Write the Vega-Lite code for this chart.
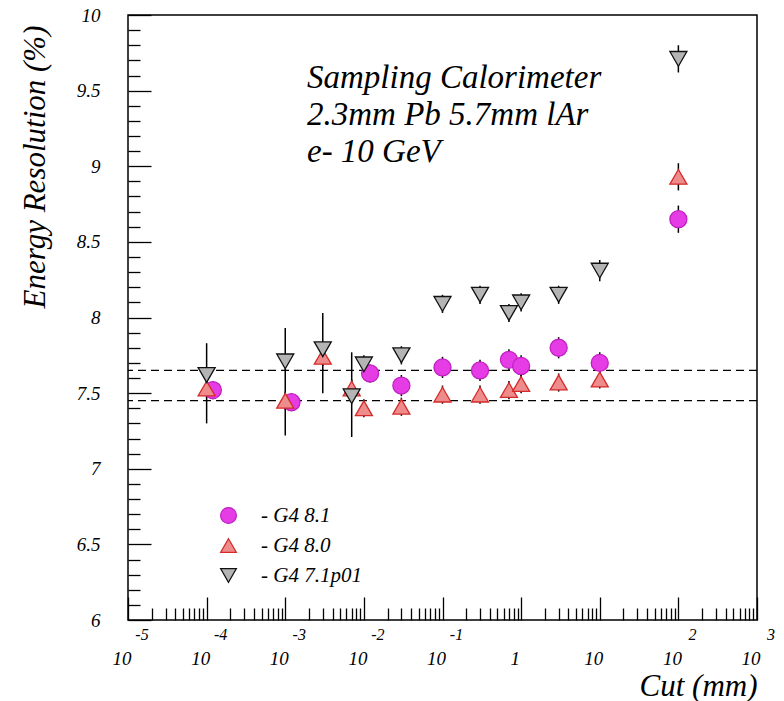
{
  "$schema": "https://vega.github.io/schema/vega-lite/v6.json",
  "width": 629,
  "height": 605,
  "autosize": {"type": "none"},
  "padding": {"left": 128, "top": 15, "right": 27, "bottom": 81},
  "background": "white",
  "config": {
    "view": {"stroke": "black", "strokeWidth": 1.5},
    "font": "Liberation Serif"
  },
  "datasets": {
    "points": [
      {"series": "G4 8.1", "cut": 0.00012, "res": 7.52, "lo": 7.46, "hi": 7.58},
      {"series": "G4 8.1", "cut": 0.0012, "res": 7.44, "lo": 7.38, "hi": 7.50},
      {"series": "G4 8.1", "cut": 0.012, "res": 7.63, "lo": 7.57, "hi": 7.69},
      {"series": "G4 8.1", "cut": 0.03, "res": 7.55, "lo": 7.48, "hi": 7.62},
      {"series": "G4 8.1", "cut": 0.1, "res": 7.67, "lo": 7.60, "hi": 7.74},
      {"series": "G4 8.1", "cut": 0.3, "res": 7.65, "lo": 7.58, "hi": 7.72},
      {"series": "G4 8.1", "cut": 0.7, "res": 7.72, "lo": 7.65, "hi": 7.79},
      {"series": "G4 8.1", "cut": 1, "res": 7.68, "lo": 7.61, "hi": 7.75},
      {"series": "G4 8.1", "cut": 3, "res": 7.80, "lo": 7.73, "hi": 7.87},
      {"series": "G4 8.1", "cut": 10, "res": 7.70, "lo": 7.63, "hi": 7.77},
      {"series": "G4 8.1", "cut": 100, "res": 8.65, "lo": 8.56, "hi": 8.74},

      {"series": "G4 8.0", "cut": 0.0001, "res": 7.53, "lo": 7.47, "hi": 7.59},
      {"series": "G4 8.0", "cut": 0.001, "res": 7.45, "lo": 7.39, "hi": 7.51},
      {"series": "G4 8.0", "cut": 0.003, "res": 7.74, "lo": 7.68, "hi": 7.80},
      {"series": "G4 8.0", "cut": 0.007, "res": 7.53, "lo": 7.47, "hi": 7.59},
      {"series": "G4 8.0", "cut": 0.01, "res": 7.40, "lo": 7.34, "hi": 7.46},
      {"series": "G4 8.0", "cut": 0.03, "res": 7.41, "lo": 7.35, "hi": 7.47},
      {"series": "G4 8.0", "cut": 0.1, "res": 7.49, "lo": 7.43, "hi": 7.55},
      {"series": "G4 8.0", "cut": 0.3, "res": 7.49, "lo": 7.43, "hi": 7.55},
      {"series": "G4 8.0", "cut": 0.7, "res": 7.52, "lo": 7.46, "hi": 7.58},
      {"series": "G4 8.0", "cut": 1, "res": 7.56, "lo": 7.50, "hi": 7.62},
      {"series": "G4 8.0", "cut": 3, "res": 7.57, "lo": 7.51, "hi": 7.63},
      {"series": "G4 8.0", "cut": 10, "res": 7.59, "lo": 7.53, "hi": 7.65},
      {"series": "G4 8.0", "cut": 100, "res": 8.93, "lo": 8.84, "hi": 9.02},

      {"series": "G4 7.1p01", "cut": 0.0001, "res": 7.62, "lo": 7.30, "hi": 7.83},
      {"series": "G4 7.1p01", "cut": 0.001, "res": 7.71, "lo": 7.22, "hi": 7.93},
      {"series": "G4 7.1p01", "cut": 0.003, "res": 7.79, "lo": 7.50, "hi": 8.03},
      {"series": "G4 7.1p01", "cut": 0.007, "res": 7.48, "lo": 7.21, "hi": 7.77},
      {"series": "G4 7.1p01", "cut": 0.01, "res": 7.69, "lo": 7.63, "hi": 7.75},
      {"series": "G4 7.1p01", "cut": 0.03, "res": 7.75, "lo": 7.69, "hi": 7.81},
      {"series": "G4 7.1p01", "cut": 0.1, "res": 8.09, "lo": 8.03, "hi": 8.15},
      {"series": "G4 7.1p01", "cut": 0.3, "res": 8.15, "lo": 8.09, "hi": 8.21},
      {"series": "G4 7.1p01", "cut": 0.7, "res": 8.03, "lo": 7.97, "hi": 8.09},
      {"series": "G4 7.1p01", "cut": 1, "res": 8.10, "lo": 8.04, "hi": 8.16},
      {"series": "G4 7.1p01", "cut": 3, "res": 8.15, "lo": 8.09, "hi": 8.21},
      {"series": "G4 7.1p01", "cut": 10, "res": 8.31, "lo": 8.24, "hi": 8.38},
      {"series": "G4 7.1p01", "cut": 100, "res": 9.71, "lo": 9.62, "hi": 9.80}
    ],
    "bands": [
      {"level": 7.65},
      {"level": 7.45}
    ],
    "decades": [
      {"cut": 1e-5, "base": "10", "exp": "-5"},
      {"cut": 1e-4, "base": "10", "exp": "-4"},
      {"cut": 1e-3, "base": "10", "exp": "-3"},
      {"cut": 1e-2, "base": "10", "exp": "-2"},
      {"cut": 1e-1, "base": "10", "exp": "-1"},
      {"cut": 1, "base": "1", "exp": ""},
      {"cut": 10, "base": "10", "exp": ""},
      {"cut": 100, "base": "10", "exp": "2"},
      {"cut": 1000, "base": "10", "exp": "3"}
    ],
    "caption": [
      {"setup": "Sampling Calorimeter"}
    ]
  },
  "layer": [
    {
      "data": {"name": "points"},
      "mark": {"type": "rule", "color": "black", "strokeWidth": 1.5},
      "encoding": {
        "x": {
          "field": "cut", "type": "quantitative",
          "scale": {"type": "log", "domain": [1e-5, 1000], "nice": false},
          "axis": {
            "title": "Cut (mm)",
            "values": [1e-5, 2e-5, 3e-5, 4e-5, 5e-5, 6e-5, 7e-5, 8e-5, 9e-5,
                       1e-4, 2e-4, 3e-4, 4e-4, 5e-4, 6e-4, 7e-4, 8e-4, 9e-4,
                       1e-3, 2e-3, 3e-3, 4e-3, 5e-3, 6e-3, 7e-3, 8e-3, 9e-3,
                       1e-2, 2e-2, 3e-2, 4e-2, 5e-2, 6e-2, 7e-2, 8e-2, 9e-2,
                       0.1, 0.2, 0.3, 0.4, 0.5, 0.6, 0.7, 0.8, 0.9,
                       1, 2, 3, 4, 5, 6, 7, 8, 9,
                       10, 20, 30, 40, 50, 60, 70, 80, 90,
                       100, 200, 300, 400, 500, 600, 700, 800, 900, 1000],
            "tickCount": 200,
            "labels": false,
            "domain": false,
            "grid": false,
            "tickColor": "black",
            "tickWidth": 1.3,
            "tickSize": {
              "condition": {"test": "abs(log(datum.value)/LN10 - round(log(datum.value)/LN10)) < 0.001", "value": -23},
              "value": -12
            },
            "titleFont": "Liberation Serif",
            "titleFontStyle": "italic",
            "titleFontWeight": "normal",
            "titleFontSize": 31,
            "titleColor": "black",
            "titleAnchor": "end",
            "titleAlign": "right",
            "titleBaseline": "alphabetic",
            "titleX": 629,
            "titleY": 75
          }
        },
        "y": {
          "field": "lo", "type": "quantitative",
          "scale": {"domain": [6, 10], "nice": false, "zero": false},
          "axis": {
            "title": "Energy Resolution (%)",
            "values": [6, 6.1, 6.2, 6.3, 6.4, 6.5, 6.6, 6.7, 6.8, 6.9,
                       7, 7.1, 7.2, 7.3, 7.4, 7.5, 7.6, 7.7, 7.8, 7.9,
                       8, 8.1, 8.2, 8.3, 8.4, 8.5, 8.6, 8.7, 8.8, 8.9,
                       9, 9.1, 9.2, 9.3, 9.4, 9.5, 9.6, 9.7, 9.8, 9.9, 10],
            "tickCount": 200,
            "labelExpr": "abs(datum.value*2 - round(datum.value*2)) < 0.001 ? '' + datum.value : ''",
            "domain": false,
            "grid": false,
            "tickColor": "black",
            "tickWidth": 1.3,
            "tickSize": {
              "condition": {"test": "abs(datum.value*2 - round(datum.value*2)) < 0.001", "value": -23},
              "value": -12
            },
            "labelPadding": 51,
            "labelFont": "Liberation Serif",
            "labelFontStyle": "italic",
            "labelFontSize": 19,
            "labelColor": "black",
            "labelAlign": "right",
            "labelBaseline": "middle",
            "labelOverlap": false,
            "titleFont": "Liberation Serif",
            "titleFontStyle": "italic",
            "titleFontWeight": "normal",
            "titleFontSize": 31,
            "titleColor": "black",
            "titleAnchor": "end",
            "titleAngle": 270,
            "titleAlign": "right",
            "titleBaseline": "middle",
            "titleX": -93,
            "titleY": 10
          }
        },
        "y2": {"field": "hi"}
      }
    },
    {
      "data": {"name": "bands"},
      "mark": {"type": "rule", "color": "black", "strokeWidth": 1.3, "strokeDash": [8, 5]},
      "encoding": {
        "y": {"field": "level", "type": "quantitative"}
      }
    },
    {
      "data": {"name": "points"},
      "mark": {"type": "point", "filled": true, "size": 290, "strokeWidth": 1.3, "opacity": 1},
      "encoding": {
        "x": {"field": "cut", "type": "quantitative"},
        "y": {"field": "res", "type": "quantitative"},
        "shape": {
          "field": "series", "type": "nominal",
          "scale": {"domain": ["G4 8.1", "G4 8.0", "G4 7.1p01"],
                    "range": ["circle", "triangle-up", "triangle-down"]},
          "legend": {
            "title": null,
            "orient": "none",
            "legendX": 90,
            "legendY": 490,
            "padding": 0,
            "rowPadding": 8,
            "labelOffset": 22,
            "labelExpr": "'- ' + datum.label",
            "labelFont": "Liberation Serif",
            "labelFontStyle": "italic",
            "labelFontSize": 21,
            "labelColor": "black",
            "symbolSize": 250,
            "symbolStrokeWidth": 1.2
          }
        },
        "fill": {
          "field": "series", "type": "nominal",
          "scale": {"domain": ["G4 8.1", "G4 8.0", "G4 7.1p01"],
                    "range": ["#e63ce6", "#ee8c8c", "#b4b4b4"]}
        },
        "stroke": {
          "field": "series", "type": "nominal",
          "scale": {"domain": ["G4 8.1", "G4 8.0", "G4 7.1p01"],
                    "range": ["#c020c0", "#d42a2a", "#111111"]}
        }
      }
    },
    {
      "data": {"name": "decades"},
      "mark": {"type": "text", "font": "Liberation Serif", "fontStyle": "italic", "fontSize": 19,
               "color": "black", "align": "center", "baseline": "middle", "dy": 39, "dx": -6, "clip": false},
      "encoding": {
        "x": {"field": "cut", "type": "quantitative"},
        "y": {"datum": 6},
        "text": {"field": "base"}
      }
    },
    {
      "data": {"name": "decades"},
      "mark": {"type": "text", "font": "Liberation Serif", "fontStyle": "italic", "fontSize": 16,
               "color": "black", "align": "center", "baseline": "middle", "dy": 15, "dx": 14, "clip": false},
      "encoding": {
        "x": {"field": "cut", "type": "quantitative"},
        "y": {"datum": 6},
        "text": {"field": "exp"}
      }
    },
    {
      "data": {"name": "caption"},
      "mark": {"type": "text", "font": "Liberation Serif", "fontStyle": "italic", "fontSize": 33,
               "color": "black", "align": "left", "baseline": "alphabetic", "lineHeight": 37},
      "encoding": {
        "x": {"datum": 0.00189},
        "y": {"datum": 9.517},
        "text": {"value": ["Sampling Calorimeter", "2.3mm Pb 5.7mm lAr", "e- 10 GeV"]}
      }
    }
  ]
}
